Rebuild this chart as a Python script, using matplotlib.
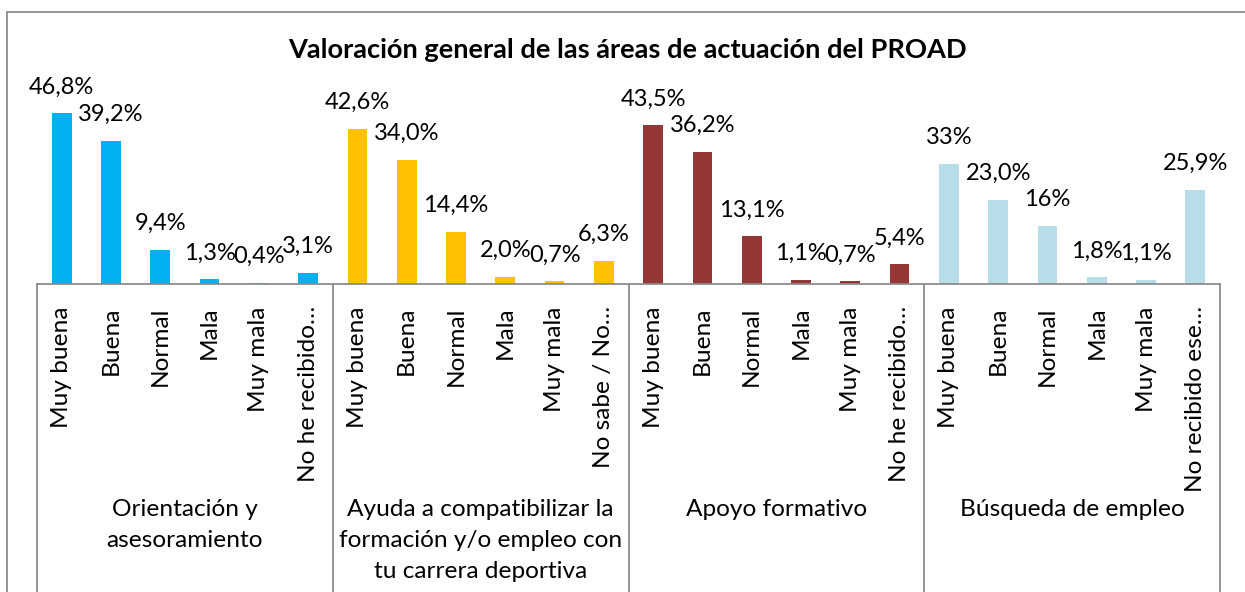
import matplotlib
matplotlib.use("Agg")
import matplotlib.pyplot as plt
from matplotlib.patches import Rectangle
import numpy as np

plt.rcParams['font.family'] = ['Lato', 'DejaVu Sans']

TITLE = "Valoración general de las áreas de actuación del PROAD"

groups = [
    "Orientación y\nasesoramiento",
    "Ayuda a compatibilizar la\nformación y/o empleo con\ntu carrera deportiva",
    "Apoyo formativo",
    "Búsqueda de empleo",
]

cats_orient = ["Muy buena", "Buena", "Normal", "Mala", "Muy mala", "No he recibido…"]
cats_ayuda = ["Muy buena", "Buena", "Normal", "Mala", "Muy mala", "No sabe / No…"]
cats_apoyo = ["Muy buena", "Buena", "Normal", "Mala", "Muy mala", "No he recibido…"]
cats_busqueda = ["Muy buena", "Buena", "Normal", "Mala", "Muy mala", "No recibido ese…"]

vals_orient = [46.8, 39.2, 9.4, 1.3, 0.4, 3.1]
vals_ayuda = [42.6, 34.0, 14.4, 2.0, 0.7, 6.3]
vals_apoyo = [43.5, 36.2, 13.1, 1.1, 0.7, 5.4]
vals_busqueda = [33, 23.0, 16, 1.8, 1.1, 25.9]

# decimals shown in the data labels
dec_orient = [1, 1, 1, 1, 1, 1]
dec_ayuda = [1, 1, 1, 1, 1, 1]
dec_apoyo = [1, 1, 1, 1, 1, 1]
dec_busqueda = [0, 1, 0, 1, 1, 1]

colors = ["#00B0F0", "#FFC000", "#953735", "#B7DEE8"]

all_cats = [cats_orient, cats_ayuda, cats_apoyo, cats_busqueda]
all_vals = [vals_orient, vals_ayuda, vals_apoyo, vals_busqueda]
all_dec = [dec_orient, dec_ayuda, dec_apoyo, dec_busqueda]

W, H = 1245, 592
fig = plt.figure(figsize=(W / 100, H / 100), dpi=100)

# outer chart frame
fig.patches.append(Rectangle((7 / W, -0.1), 1.2, 1 - 12 / H + 0.1, transform=fig.transFigure,
                             fill=False, edgecolor="#8C8C8C", linewidth=1.3))

ax_left, ax_right = 37 / W, 1220 / W
base_y, top_y = 284, 101.75
ax = fig.add_axes([ax_left, 1 - base_y / H, ax_right - ax_left, (base_y - top_y) / H])
ax.set_xlim(-0.5, 23.5)
ax.set_ylim(0, 50)

n = len(cats_orient)
tick_pos = []
tick_lab = []
for g, (cats, vals, decs) in enumerate(zip(all_cats, all_vals, all_dec)):
    x = np.arange(n) + g * n
    ax.bar(x, vals, width=0.4, color=colors[g], zorder=2)
    for xi, v, d in zip(x, vals, decs):
        lab = f"{v:.{d}f}%".replace(".", ",")
        ax.annotate(lab, (xi, v), xytext=(0, 19), textcoords="offset points",
                    ha="center", va="center", fontsize=17, color="#000000", zorder=3)
    tick_pos.extend(x)
    tick_lab.extend(cats)
    # group label
    ax.text(g * n + (n - 1) / 2, -1.18, groups[g], transform=ax.get_xaxis_transform(),
            ha="center", va="top", fontsize=17.6, linespacing=1.6)

ax.set_xticks(tick_pos)
ax.set_xticklabels(tick_lab, rotation=90, fontsize=17.6)
ax.tick_params(axis="x", length=0, pad=16)
ax.set_yticks([])

for s in ["top", "right", "left"]:
    ax.spines[s].set_visible(False)
ax.spines["bottom"].set_color("#8C8C8C")
ax.spines["bottom"].set_linewidth(1.3)

# group separators of the multi-level category axis
trans = ax.get_xaxis_transform()
for xs in [-0.5, 5.5, 11.5, 17.5, 23.5]:
    ax.plot([xs, xs], [0, -2.0], transform=trans, color="#8C8C8C", linewidth=1.3, clip_on=False)

fig.text(627.5 / W, 1 - 50 / H, TITLE, ha="center", va="center", fontsize=19.6, fontweight="bold")

fig.savefig("out.png", dpi=100)
